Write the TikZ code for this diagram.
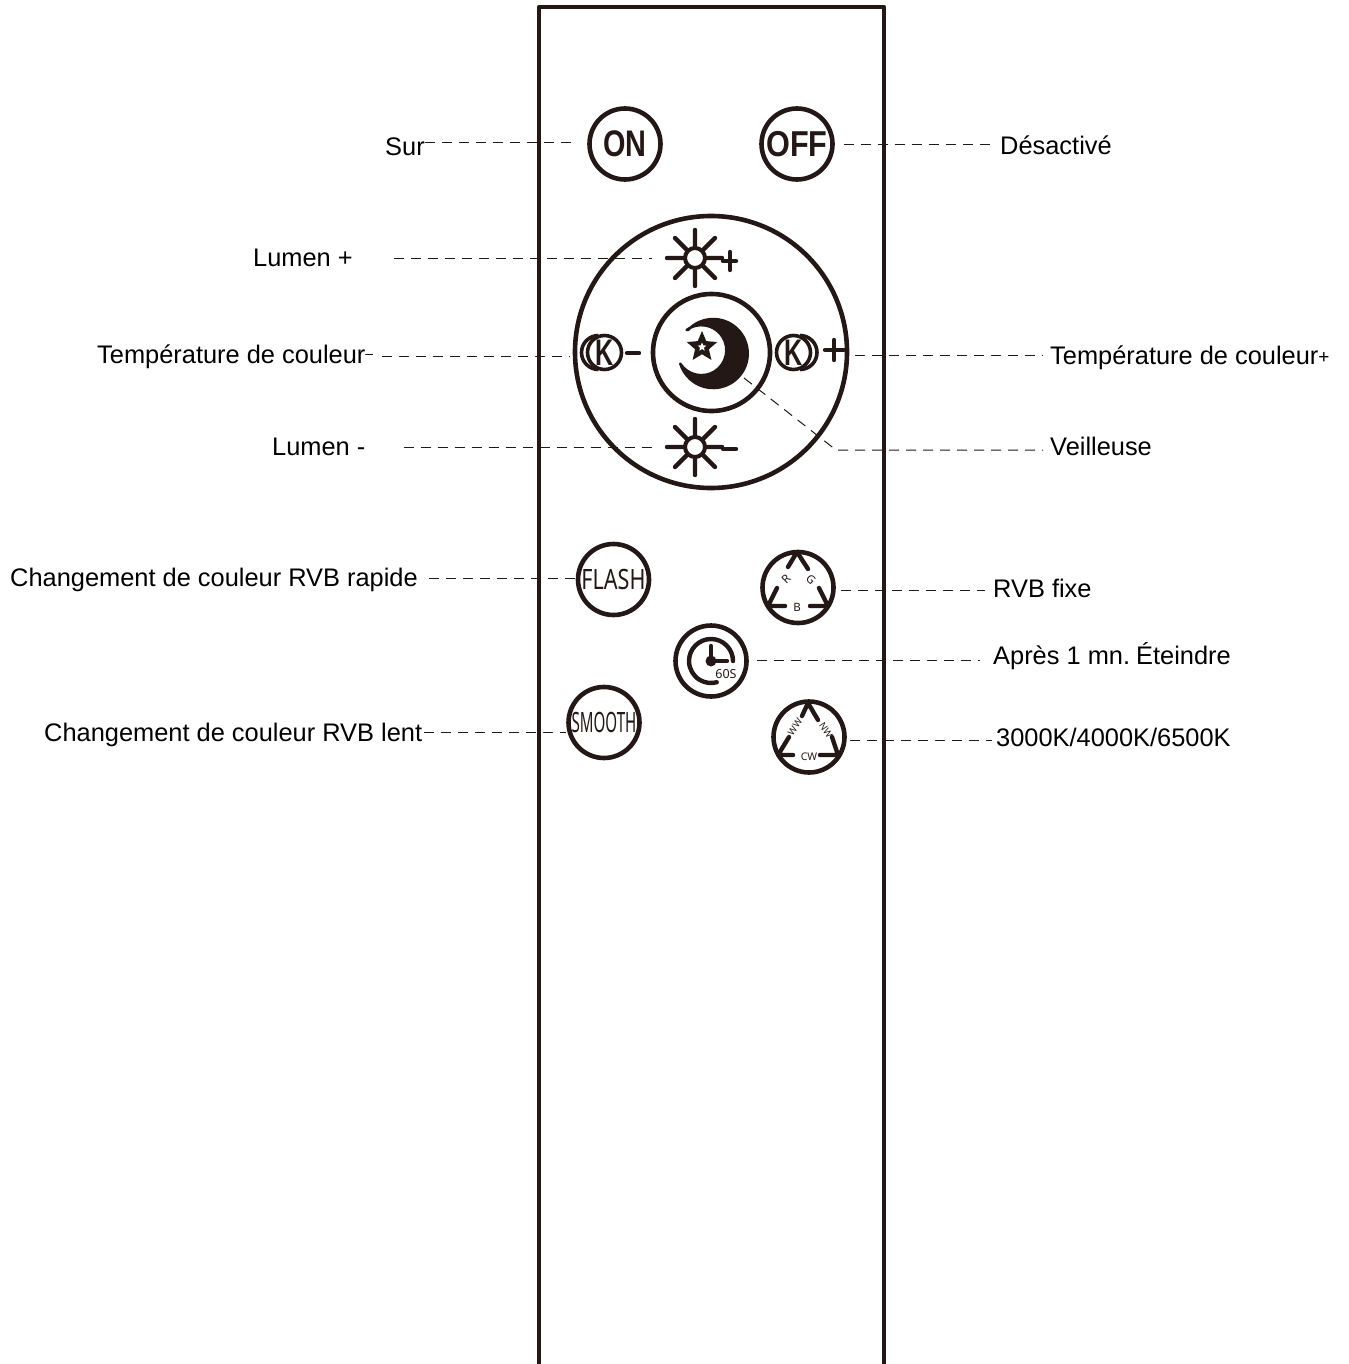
\documentclass[tikz,border=0pt]{standalone}
\usepackage{fontspec}
\setmainfont{Liberation Sans}
\newfontfamily\iconfont{Noto Sans}
\usepackage{xcolor}
\usetikzlibrary{positioning,calc,shapes.geometric}
\definecolor{inkdark}{HTML}{231815}

% the sun with its rays, around a given point
\newcommand{\sunrays}[1]{\draw[iconline, shift={(#1)}] (-28,0) -- (27,0) (0,-28) -- (0,28) (-20,-20) -- (20,20) (-20,20) -- (20,-20);}

\begin{document}
\begin{tikzpicture}[
    x=1pt, y=-1pt,
    btn/.style={draw=inkdark, circle, line width=4.6pt, minimum size=71pt, inner sep=0pt, text=inkdark},
    ringbtn/.style={draw=inkdark, circle, line width=4.6pt, inner sep=0pt},
    sundot/.style={draw=inkdark, circle, fill=white, line width=4pt, minimum size=20pt, inner sep=0pt},
    kbtn/.style={draw=inkdark, circle, line width=3.6pt, minimum size=34pt, inner sep=0pt, text=inkdark, font=\bfseries\fontsize{37}{37}\selectfont},
    iconline/.style={draw=inkdark, line width=4.4pt, line cap=round},
    tiny/.style={inner sep=0pt, text=inkdark, font=\iconfont\fontsize{11.5}{12}\selectfont},
    lab/.style={anchor=west, inner sep=0pt, text height=18pt, text depth=5pt, font=\fontsize{25.4}{28}\selectfont},
    leader/.style={draw=inkdark, line width=1pt, dash pattern=on 10pt off 7pt}
]
\useasboundingbox (0,0) rectangle (1348,1364);

% remote body
\draw[draw=inkdark, line width=4.6pt, line join=round] (539,1364) -- (539,7) -- (884,7) -- (884,1364);

% top buttons
\node[btn] (on) at (625,144) {\bfseries\fontsize{37}{37}\selectfont\scalebox{.78}[1]{ON}};
\node[btn] (off) at (797,144) {\bfseries\fontsize{36}{36}\selectfont\raisebox{-2pt}{\scalebox{.85}[1]{OFF}}};

% round pad
\node[ringbtn, minimum size=272pt] (pad) at (711,352) {};
\node[ringbtn, minimum size=117pt] (night) at (711.5,352.5) {};

\sunrays{695,258}
\sunrays{695,447}
\node[sundot] (sunup) at (695,258) {};
\node[sundot] (sundown) at (695,447) {};
\draw[iconline] (723,261) -- (736,261) (730,252) -- (730,270);
\draw[iconline] (723,449) -- (736,449);

\node[kbtn] (tempdown) at (604.5,352.5) {\scalebox{.68}[1]{K}};
\draw[draw=inkdark, line width=3.6pt] (598.5,335.5) arc[start angle=90, end angle=270, radius=17pt];
\draw[iconline] (627,353) -- (639,353);
\node[kbtn] (tempup) at (793.5,352.5) {\scalebox{.68}[1]{K}};
\draw[draw=inkdark, line width=3.6pt] (800,335.5) arc[start angle=90, end angle=-90, radius=17pt];
\draw[iconline] (825,350) -- (844,350) (834,340) -- (834,360);

% moon and star
\fill[inkdark, draw=inkdark, line width=2.5pt, line join=round] (688,330) arc[start angle=137, end angle=-163, radius=34.5pt]
    arc[start angle=-147.5, end angle=126, radius=25pt] -- cycle;
\node[star, star points=5, star point ratio=2.2, fill=inkdark, minimum size=32pt, inner sep=0pt] (moonstar) at (702,347) {};
\node[star, star points=5, star point ratio=2.2, fill=white, minimum size=9pt, inner sep=0pt] (mooneye) at (702,347) {};

% lower buttons
\node[btn, font=\iconfont\fontsize{28}{28}\selectfont] (flash) at (613.5,579.5) {\scalebox{.77}[1]{FLASH}};
\node[btn, font=\iconfont\fontsize{28}{28}\selectfont] (smooth) at (604,722.5) {\scalebox{.54}[1]{SMOOTH}};
\node[btn] (rgb) at (798,587.5) {};
\node[btn] (timer) at (711,661) {};
\node[btn] (white) at (809,737) {};

% rgb triangle
\draw[iconline, line join=round] (788,567) -- (797,552) -- (808,569)
    (777,588) -- (768,606) -- (785,606)
    (810,606) -- (828,606) -- (819,588);
\node[tiny, rotate=45] (rgbr) at (786,579) {R};
\node[tiny, rotate=-45] (rgbg) at (811,580) {G};
\node[tiny] (rgbb) at (797,607) {B};

% timer
\draw[iconline] (733,661) arc[start angle=0, end angle=285, radius=22pt];
\draw[iconline] (711,646) -- (711,661) -- (727,661);
\node[circle, fill=inkdark, minimum size=11pt, inner sep=0pt] (timerhub) at (711,661) {};
\node[tiny, font=\iconfont\fontsize{12.5}{13}\selectfont] (timersec) at (726,674) {60S};

% white triangle
\draw[iconline, line join=round] (802,716) -- (808,703) -- (818,720)
    (789,737) -- (778,755) -- (793,755)
    (820,755) -- (838,755) -- (832,737);
\node[tiny, font=\iconfont\fontsize{9.5}{10}\selectfont, rotate=56] (whiteww) at (795,727) {WW};
\node[tiny, font=\iconfont\fontsize{9.5}{10}\selectfont, rotate=-56] (whitenw) at (826,730) {NW};
\node[tiny, font=\iconfont\fontsize{10.5}{11}\selectfont] (whitecw) at (809,757) {CW};

% labels left
\node[lab] (sur) at (385,149) {Sur};
\node[lab] (lumenup) at (253,260) {Lumen +};
\node[lab] (templeft) at (97,357) {Température de couleur\raisebox{5pt}{\fontsize{14}{14}\selectfont--}};
\node[lab] (lumendown) at (272,449) {Lumen -};
\node[lab] (fast) at (10,580) {Changement de couleur RVB rapide};
\node[lab] (slow) at (44,735) {Changement de couleur RVB lent};

% labels right
\node[lab] (offlab) at (1000,148) {Désactivé};
\node[lab] (tempright) at (1050,358) {Température de couleur\raisebox{1pt}{\fontsize{19}{19}\selectfont+}};
\node[lab] (veil) at (1050,449) {Veilleuse};
\node[lab] (fixed) at (993,591) {RVB fixe};
\node[lab] (after) at (993,658) {Après 1 mn.\kern-1pt\ Éteindre};
\node[lab] (cct) at (996,740) {3000K/4000K/6500K};

% leaders, left side
\draw[leader, shorten >=16pt] ([yshift=1pt]on.west -| sur.east) -- ([yshift=1pt]on.west);
\draw[leader, shorten <=41pt, shorten >=31pt] (sunup.west -| lumenup.east) -- (sunup.west);
\draw[leader, shorten <=9pt, shorten >=16pt] ([yshift=-3.5pt]tempdown.west -| templeft.east) -- ([yshift=-3.5pt]tempdown.west);
\draw[leader, shorten <=38pt, shorten >=31pt] (sundown.west -| lumendown.east) -- (sundown.west);
\draw[leader, shorten <=11pt] ([yshift=1.5pt]flash.west -| fast.east) -- ([yshift=1.5pt]flash.west);
\draw[leader, shorten <=2pt] ([yshift=-9.5pt]smooth.west -| slow.east) -- ([yshift=-9.5pt]smooth.west);

% leaders, right side
\draw[leader, shorten <=9pt, shorten >=10pt] ([yshift=-1pt]off.east) -- ([yshift=-1pt]off.east -| offlab.west);
\draw[leader, shorten <=43pt, shorten >=7pt] ([yshift=-2.5pt]tempup.east) -- ([yshift=-2.5pt]tempup.east -| tempright.west);
\draw[leader, shorten <=5pt, shorten >=8pt] ([yshift=-2.5pt]rgb.east) -- ([yshift=-2.5pt]rgb.east -| fixed.west);
\draw[leader, shorten <=8pt, shorten >=13pt] ([yshift=1pt]timer.east) -- ([yshift=1pt]timer.east -| after.west);
\draw[leader, shorten <=3pt, shorten >=4pt] ([yshift=-3pt]white.east) -- ([yshift=-3pt]white.east -| cct.west);

% night light leader, with a bend
\coordinate (moontip) at (744,378);
\coordinate (moonbend) at (836,450);
\draw[leader, shorten >=7pt] (moontip) -- (moonbend) -- (moonbend -| veil.west);
\end{tikzpicture}
\end{document}
